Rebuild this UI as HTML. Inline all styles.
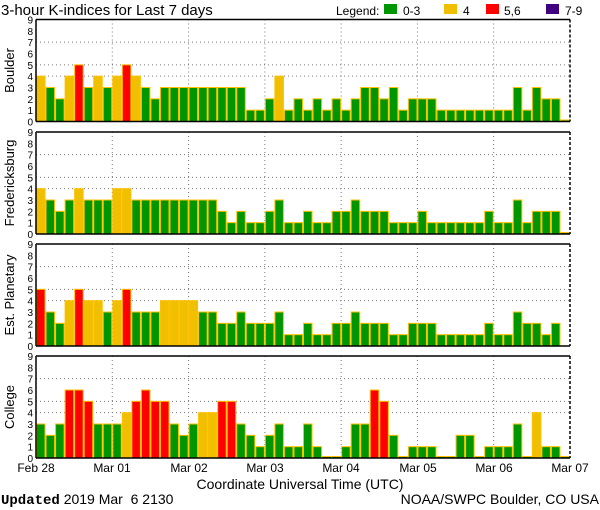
<!DOCTYPE html>
<html><head><meta charset="utf-8"><style>
html,body{margin:0;padding:0;background:#fff;}
svg{display:block;font-family:"Liberation Sans",sans-serif;}
</style></head><body>
<svg id="s" width="600" height="510" xmlns="http://www.w3.org/2000/svg">
<rect width="600" height="510" fill="#fff"/>
<text x="1" y="15" font-size="15" fill="#000">3-hour K-indices for Last 7 days</text>
<text x="336" y="15" font-size="12" fill="#000">Legend:</text>
<rect x="384" y="4" width="13" height="10" fill="#009600"/>
<text x="403" y="15" font-size="12">0-3</text>
<rect x="444" y="4" width="13" height="10" fill="#f0c000"/>
<text x="463" y="15" font-size="12">4</text>
<rect x="486" y="4" width="13" height="10" fill="#ff0000"/>
<text x="504" y="15" font-size="12">5,6</text>
<rect x="546" y="4" width="13" height="10" fill="#400080"/>
<text x="565" y="15" font-size="12">7-9</text>
<g id="g"></g>
<g font-size="12" text-anchor="middle">
<text x="36" y="472">Feb 28</text><text x="112" y="472">Mar 01</text><text x="189" y="472">Mar 02</text><text x="265" y="472">Mar 03</text><text x="341" y="472">Mar 04</text><text x="418" y="472">Mar 05</text><text x="494" y="472">Mar 06</text><text x="570" y="472">Mar 07</text>
</g>
<text x="300" y="489" font-size="14" text-anchor="middle">Coordinate Universal Time (UTC)</text>
<text x="1" y="504" font-size="14"><tspan font-family="Liberation Mono,monospace" font-weight="bold">Updated</tspan> 2019 Mar &#160;6 2130</text>
<text x="599" y="504" font-size="14" text-anchor="end">NOAA/SWPC Boulder, CO USA</text>
</svg>
<script>
var panels=[
{name:"Boulder",top:19.5,v:[4,3,2,4,5,3,4,3,4,5,4,3,2,3,3,3,3,3,3,3,3,3,1,1,2,4,1,2,1,2,1,2,1,2,3,3,2,3,1,2,2,2,1,1,1,1,1,1,1,1,3,1,3,2,2,0]},
{name:"Fredericksburg",top:132,v:[4,3,2,3,4,3,3,3,4,4,3,3,3,3,3,3,3,3,3,2,1,2,1,1,2,3,1,1,2,1,1,2,2,3,2,2,2,1,1,1,2,1,1,1,1,1,1,2,1,1,3,1,2,2,2,0]},
{name:"Est. Planetary",top:244,v:[5,3,2,4,5,4,4,3,4,5,3,3,3,4,4,4,4,3,3,2,2,3,2,2,2,3,1,1,2,1,1,2,2,3,2,2,2,1,1,2,2,2,1,1,1,1,1,2,1,1,3,2,2,1,2,-1]},
{name:"College",top:356,v:[3,2,3,6,6,5,3,3,3,4,5,6,5,5,3,2,3,4,4,5,5,3,2,1,2,3,1,1,3,1,0,0,1,3,3,6,5,2,0,1,1,1,0,0,2,2,0,1,1,1,3,0,4,1,1,0]}];
var H=102,U=H/9,L=36,R=570,W=(R-L)/56,o="";
function col(k){return k>=7?"#400080":k>=5?"#ff0000":k==4?"#f0c000":"#009600";}
panels.forEach(function(p){
 var t=p.top,b=t+H;
 for(var k=0;k<=9;k++){o+='<text x="33" y="'+(b-k*U+4)+'" font-size="10" text-anchor="end">'+k+'</text>';}
 [4,5,7].forEach(function(k){o+='<line x1="'+L+'" x2="'+R+'" y1="'+(b-k*U)+'" y2="'+(b-k*U)+'" stroke="#777" stroke-dasharray="1,3"/>';});
 for(var d=1;d<7;d++){var x=L+d*8*W;o+='<line x1="'+x+'" x2="'+x+'" y1="'+t+'" y2="'+b+'" stroke="#777" stroke-dasharray="1,3"/>';}
 p.v.forEach(function(k,i){
  if(k<0)return;var x=L+i*W;var h=k==0?1.5:k*U;
  o+='<rect x="'+(x+0.5)+'" y="'+(b-h)+'" width="'+(W-1)+'" height="'+h+'" fill="'+col(k)+'" stroke="#ffc000" stroke-width="1"/>';
 });
 o+='<line x1="'+L+'" x2="'+R+'" y1="'+t+'" y2="'+t+'" stroke="#000" stroke-width="1.5"/>';
 o+='<line x1="'+L+'" x2="'+L+'" y1="'+t+'" y2="'+b+'" stroke="#000" stroke-width="1.5"/>';
 o+='<line x1="'+R+'" x2="'+R+'" y1="'+t+'" y2="'+b+'" stroke="#000" stroke-width="1.5" stroke-dasharray="3,2"/>';
 o+='<line x1="'+L+'" x2="'+R+'" y1="'+b+'" y2="'+b+'" stroke="#000" stroke-width="1.5"/>';
 var cy=t+H/2;
 o+='<text transform="translate(14,'+cy+') rotate(-90)" font-size="13" text-anchor="middle">'+p.name+'</text>';
});
document.getElementById("g").innerHTML=o;
</script>
</body></html>
